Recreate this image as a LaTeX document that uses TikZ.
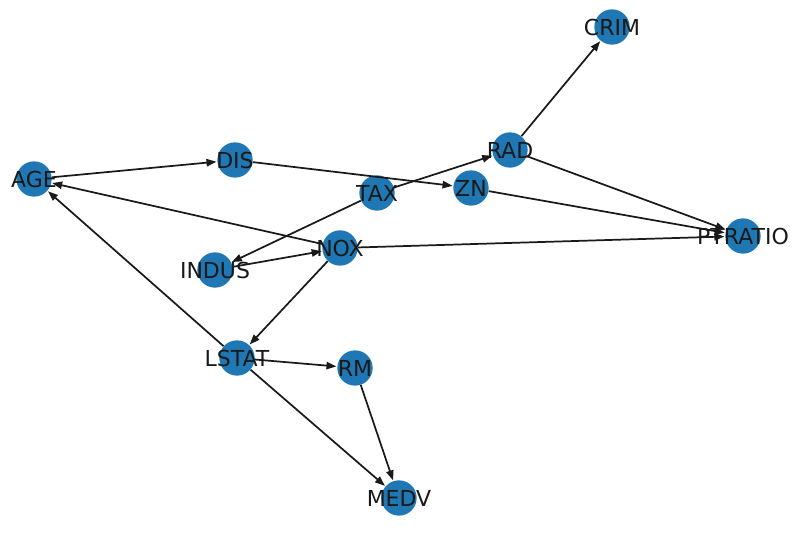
\documentclass[tikz,border=0pt]{standalone}
\usepackage{fontspec}
\setmainfont{DejaVu Sans}
\usetikzlibrary{arrows.meta}
\definecolor{nodeblue}{HTML}{1F77B4}
\definecolor{edgecol}{HTML}{1A1A1A}
\begin{document}
\begin{tikzpicture}[x=0.75pt,y=-0.75pt,
  vert/.style={circle,fill=nodeblue,draw=none,minimum size=26.5pt,inner sep=0pt},
  lbl/.style={inner sep=0pt,font=\fontsize{16.5}{18}\selectfont,text=black!90},
  edge/.style={draw=edgecol,line width=1.3pt,-{Triangle[length=7.5pt,width=5.5pt]},shorten >=0.5pt}]
\useasboundingbox (0,0) rectangle (800,534);
\node[vert] (CRIM) at (612,27) {};
\node[vert] (RAD) at (510,150) {};
\node[vert] (DIS) at (235,160) {};
\node[vert] (AGE) at (34,179) {};
\node[vert] (TAX) at (377,193) {};
\node[vert] (ZN) at (471,188) {};
\node[vert] (PTRATIO) at (743,236) {};
\node[vert] (NOX) at (340,248) {};
\node[vert] (INDUS) at (215,270) {};
\node[vert] (LSTAT) at (237,358) {};
\node[vert] (RM) at (355,368) {};
\node[vert] (MEDV) at (399,498) {};
\foreach \a/\b in {RAD/CRIM,RAD/PTRATIO,AGE/DIS,DIS/ZN,ZN/PTRATIO,TAX/RAD,TAX/INDUS,NOX/AGE,NOX/PTRATIO,INDUS/NOX,NOX/LSTAT,LSTAT/AGE,LSTAT/RM,LSTAT/MEDV,RM/MEDV}
  \draw[edge] (\a) -- (\b);
\foreach \n in {CRIM,RAD,DIS,AGE,TAX,ZN,PTRATIO,NOX,INDUS,LSTAT,RM,MEDV}
  \node[lbl] (\n-l) at (\n) {\n};
\end{tikzpicture}
\end{document}
